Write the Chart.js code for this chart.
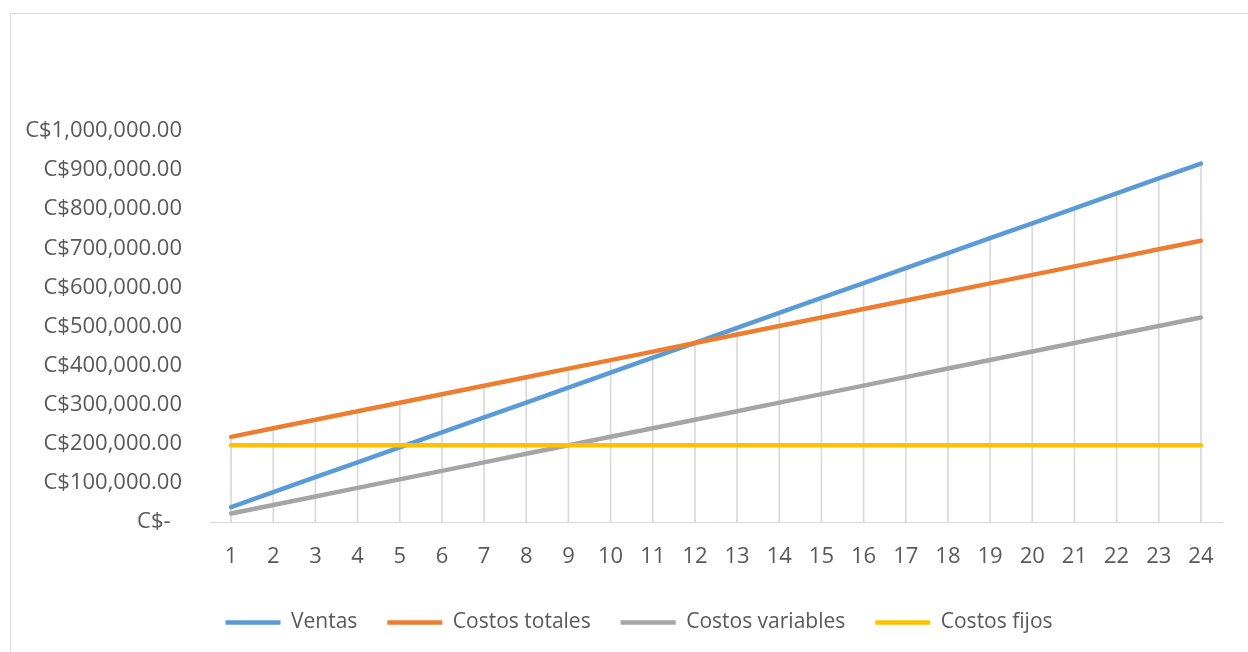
<!DOCTYPE html>
<html lang="es">
<head>
    <meta charset="UTF-8">
    <title>Punto de equilibrio</title>
    <script src="https://cdn.jsdelivr.net/npm/chart.js"></script>
    <style>
        body { margin: 0; background: #fff; overflow: hidden; }
        #marco { position: absolute; left: 10px; top: 13px; width: 1400px; height: 800px; border: 1px solid #d9d9d9; }
        #caja { position: absolute; left: 0; top: 0; width: 1248px; height: 652px; }
    </style>
</head>
<body>
    <div id="marco"></div>
    <div id="caja"><canvas id="graficoEquilibrio"></canvas></div>

    <script>
        let categorias = ["1","2","3","4","5","6","7","8","9","10","11","12",
                          "13","14","15","16","17","18","19","20","21","22","23","24"];
        let ventas = [38200, 76400, 114600, 152800, 191000, 229200, 267400, 305600,
                      343800, 382000, 420200, 458400, 496600, 534800, 573000, 611200,
                      649400, 687600, 725800, 764000, 802200, 840400, 878600, 916800];
        let costosTotales = [217800, 239600, 261400, 283200, 305000, 326800, 348600, 370400,
                             392200, 414000, 435800, 457600, 479400, 501200, 523000, 544800,
                             566600, 588400, 610200, 632000, 653800, 675600, 697400, 719200];
        let costosVariables = [21800, 43600, 65400, 87200, 109000, 130800, 152600, 174400,
                               196200, 218000, 239800, 261600, 283400, 305200, 327000, 348800,
                               370600, 392400, 414200, 436000, 457800, 479600, 501400, 523200];
        let costosFijos = [196000, 196000, 196000, 196000, 196000, 196000, 196000, 196000,
                           196000, 196000, 196000, 196000, 196000, 196000, 196000, 196000,
                           196000, 196000, 196000, 196000, 196000, 196000, 196000, 196000];

        // lineas de caida: del punto mas alto de cada categoria hasta el eje
        let maximos = categorias.map((c, i) => Math.max(ventas[i], costosTotales[i], costosVariables[i], costosFijos[i]));

        let gris = "#595959";
        let fuente = "'Open Sans', sans-serif";

        function serie(nombre, valores, color, orden) {
            return {
                label: nombre,
                data: valores,
                borderColor: color,
                backgroundColor: color,
                borderWidth: 4.5,
                borderCapStyle: "round",
                pointRadius: 0,
                tension: 0,
                fill: false,
                order: orden
            };
        }

        // la leyenda de Excel queda un poco a la derecha del centro
        let moverLeyenda = {
            id: "moverLeyenda",
            afterLayout(chart) {
                chart.legend.left += 28;
                chart.legend.right += 28;
            }
        };

        let ctx = document.getElementById("graficoEquilibrio").getContext("2d");
        window.myChart = new Chart(ctx, {
            type: "line",
            data: {
                labels: categorias,
                datasets: [
                    serie("Ventas", ventas, "#5b9bd5", 4),
                    serie("Costos totales", costosTotales, "#ed7d31", 3),
                    serie("Costos variables", costosVariables, "#a5a5a5", 2),
                    serie("Costos fijos", costosFijos, "#ffc000", 1),
                    {
                        type: "bar",
                        label: "caida",
                        data: maximos,
                        backgroundColor: "#d9d9d9",
                        barThickness: 1,
                        order: 10
                    }
                ]
            },
            plugins: [moverLeyenda],
            options: {
                responsive: true,
                maintainAspectRatio: false,
                animation: false,
                layout: { padding: { left: 0, right: 26, top: 131, bottom: 9 } },
                plugins: {
                    tooltip: { enabled: false },
                    legend: {
                        position: "bottom",
                        labels: {
                            usePointStyle: true,
                            pointStyle: "line",
                            pointStyleWidth: 55,
                            padding: 30,
                            color: gris,
                            font: { family: fuente, size: 21 },
                            filter: item => item.datasetIndex < 4,
                            sort: (a, b) => a.datasetIndex - b.datasetIndex
                        }
                    }
                },
                scales: {
                    x: {
                        offset: true,
                        grid: { display: false, offset: false },
                        border: { display: true, color: "#d9d9d9", width: 1 },
                        ticks: { color: gris, font: { family: fuente, size: 22 }, padding: 14, maxRotation: 0, autoSkip: false },
                        afterFit: scale => { scale.height = 60; }
                    },
                    y: {
                        min: 0,
                        max: 1000000,
                        grid: { display: false },
                        border: { display: false },
                        ticks: {
                            stepSize: 100000,
                            padding: 20,
                            color: gris,
                            font: { family: fuente, size: 22 },
                            callback: v => v === 0 ? "C$-  " : "C$" + v.toLocaleString("en-US", { minimumFractionDigits: 2, maximumFractionDigits: 2 })
                        },
                        afterFit: scale => { scale.width = 210; }
                    }
                }
            }
        });
    </script>
</body>
</html>
